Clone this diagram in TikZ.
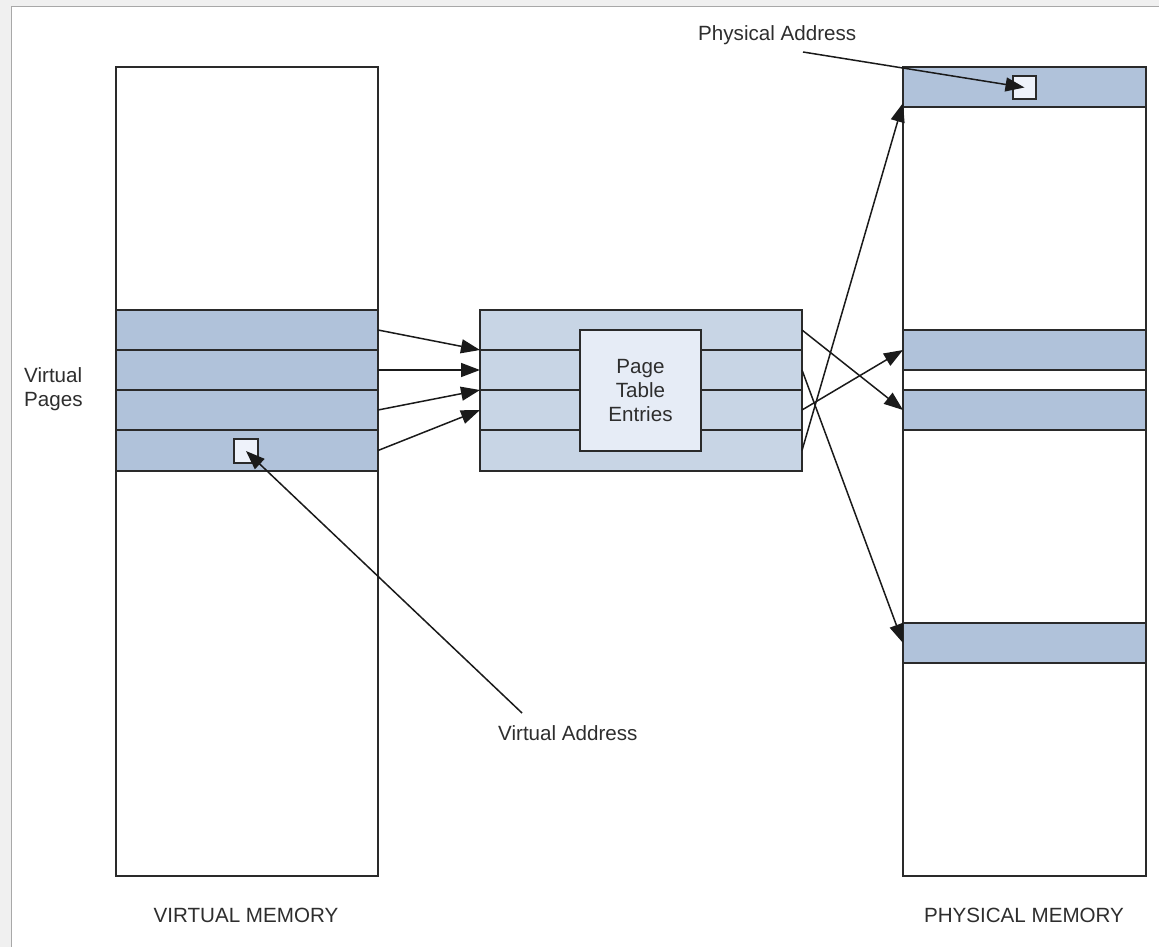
\documentclass[tikz,border=0pt]{standalone}
\usepackage{fontspec}
\setmainfont{Liberation Sans}
\usetikzlibrary{arrows.meta,calc}

\definecolor{pagebg}{HTML}{F0F0F0}
\definecolor{framec}{HTML}{A8A8A8}
\definecolor{edgec}{HTML}{2A2A2A}
\definecolor{linkc}{HTML}{1A1A1A}
\definecolor{bandc}{HTML}{B0C2DA}
\definecolor{tablec}{HTML}{C8D5E5}
\definecolor{entryc}{HTML}{E6ECF6}
\definecolor{cellc}{HTML}{EEF2FA}
\definecolor{textc}{HTML}{2E2E2E}

\tikzset{
  box/.style={draw=edgec, line width=1.9pt, inner sep=0pt, outer sep=0pt, anchor=north west},
  band/.style={box, fill=bandc},
  row/.style={box, fill=tablec, minimum width=322pt},
  cell/.style={box, fill=cellc, minimum width=24pt, minimum height=24pt},
  label/.style={text=textc, inner sep=0pt, font=\fontsize{20.6}{24}\selectfont},
  link/.style={draw=linkc, line width=1.5pt, -{Triangle[length=19pt,width=14pt]}},
}

\begin{document}
\begin{tikzpicture}[x=1pt, y=-1pt]
  \useasboundingbox (0,0) rectangle (1159,947);
  % window background and frame
  \fill[pagebg] (0,0) rectangle (1159,947);
  \filldraw[fill=white, draw=framec, line width=1.8pt] (11.5,6.5) rectangle (1180,970);

  % virtual memory column
  \node[box, minimum width=262pt, minimum height=809pt] (vm) at (116,67) {};
  \node[band, minimum width=262pt, minimum height=40pt] (vp1) at (116,310) {};
  \node[band, minimum width=262pt, minimum height=40pt] (vp2) at (116,350) {};
  \node[band, minimum width=262pt, minimum height=40pt] (vp3) at (116,390) {};
  \node[band, minimum width=262pt, minimum height=41pt] (vp4) at (116,430) {};
  \node[cell] (vsq) at (234,439) {};

  % page table
  \node[row, minimum height=40pt] (pt1) at (480,310) {};
  \node[row, minimum height=40pt] (pt2) at (480,350) {};
  \node[row, minimum height=40pt] (pt3) at (480,390) {};
  \node[row, minimum height=41pt] (pt4) at (480,430) {};
  \node[box, fill=entryc, minimum width=121pt, minimum height=121pt,
        label, align=center, anchor=north west] (pte) at (580,330)
        {Page\\Table\\Entries};

  % physical memory column
  \node[box, minimum width=243pt, minimum height=809pt] (pm) at (903,67) {};
  \node[band, minimum width=243pt, minimum height=40pt] (pm1) at (903,67) {};
  \node[band, minimum width=243pt, minimum height=40pt] (pm2) at (903,330) {};
  \node[band, minimum width=243pt, minimum height=40pt] (pm3) at (903,390) {};
  \node[band, minimum width=243pt, minimum height=40pt] (pm4) at (903,623) {};
  \node[cell, minimum width=23pt, minimum height=23pt] (psq) at (1013,76) {};

  % labels
  \node[label, align=left, anchor=west] (vpages) at (24,389) {Virtual\\Pages};
  \node[label, anchor=west] (va) at (498,733) {Virtual Address};
  \node[label, anchor=west] (pa) at (698,35) {Physical Address};
  \node[label] (vmlab) at (246,915) {VIRTUAL MEMORY};
  \node[label] (pmlab) at (1024,915) {PHYSICAL MEMORY};

  % virtual pages to page table entries
  \draw[link] (vp1.east) -- (pt1.south west);
  \draw[link] (vp2.east) -- (pt2.west);
  \draw[link] (vp3.east) -- (pt2.south west);
  \draw[link] (vp4.east) -- (pt3.west);

  % page table entries to physical frames
  \draw[link] (pt1.east) -- (pm3.west);
  \draw[link] (pt2.east) -- (pm4.west);
  \draw[link] (pt3.east) -- (pm2.west);
  \draw[link] (pt4.east) -- ($(pm1.south west)+(0,-4)$);

  % address callouts
  \coordinate (vaTail) at (522,713);
  \coordinate (paTail) at (803,52);
  \draw[link] (vaTail) -- (vsq.center);
  \draw[link] (paTail) -- (psq.center);
\end{tikzpicture}
\end{document}
